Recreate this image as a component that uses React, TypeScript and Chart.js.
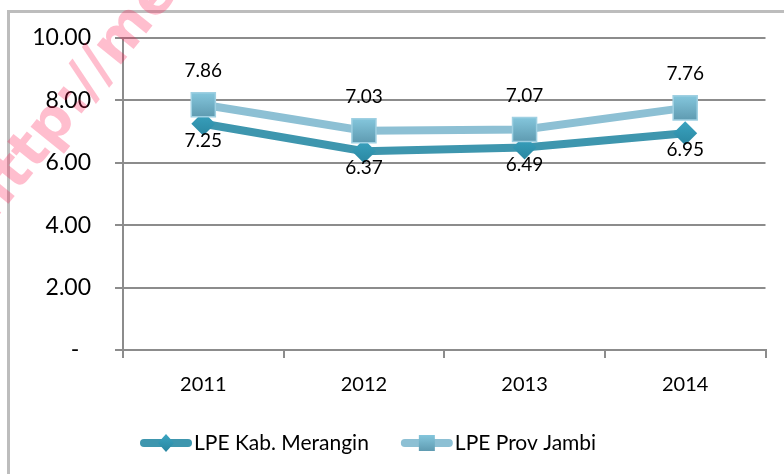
import React, { useEffect, useRef } from "react";
import { Chart, registerables } from "chart.js";

Chart.register(...registerables);

const years = ["2011", "2012", "2013", "2014"];
const meranginValues = [7.25, 6.37, 6.49, 6.95];
const jambiValues = [7.86, 7.03, 7.07, 7.76];
const seriesNames = ["LPE Kab. Merangin", "LPE Prov Jambi"];
const yTicks = [0, 2, 4, 6, 8, 10];
const watermarkText = "http://merangin";

const FONT = "Lato, 'Open Sans', sans-serif";
const GRID = "#8c8c8c";
const MER_LINE = "#3e96ae";
const JAM_LINE = "#8dc0d4";

function gradientFor(c: any, top: string, bottom: string, half: number, fallback: string) {
  if (c.type !== "data") return fallback;
  const chart = c.chart;
  const ys = chart.scales && chart.scales.y;
  if (!ys || typeof c.raw !== "number") return fallback;
  const y = ys.getPixelForValue(c.raw);
  if (!isFinite(y)) return fallback;
  const g = chart.ctx.createLinearGradient(0, y - half, 0, y + half);
  g.addColorStop(0, top);
  g.addColorStop(1, bottom);
  return g;
}

const labelPlugin = {
  id: "valueLabels",
  afterDatasetsDraw(chart: any) {
    const ctx = chart.ctx;
    ctx.save();
    ctx.font = `19px ${FONT}`;
    ctx.fillStyle = "#000";
    ctx.textAlign = "center";
    ctx.textBaseline = "middle";
    chart.data.datasets.forEach((ds: any, di: number) => {
      const meta = chart.getDatasetMeta(di);
      const off = ds.labelOffset || 0;
      meta.data.forEach((pt: any, i: number) => {
        ctx.fillText(ds.data[i].toFixed(2), pt.x, pt.y + off);
      });
    });
    ctx.restore();
  },
};

const decorPlugin = {
  id: "decor",
  beforeDraw(chart: any) {
    const ctx = chart.ctx;
    ctx.save();
    ctx.strokeStyle = "#bdbdbd";
    ctx.lineWidth = 3;
    ctx.strokeRect(8.5, 11.5, chart.width + 20, chart.height + 20);
    ctx.restore();
  },
  afterDraw(chart: any) {
    const ctx = chart.ctx;
    // legend
    ctx.save();
    const ly = 443;
    let x = 140;
    const items = [
      { ds: chart.data.datasets.find((d: any) => d.label === seriesNames[0]) },
      { ds: chart.data.datasets.find((d: any) => d.label === seriesNames[1]) },
    ];
    ctx.font = `21px ${FONT}`;
    ctx.textBaseline = "middle";
    items.forEach((it: any, idx: number) => {
      const ds = it.ds;
      ctx.strokeStyle = ds.borderColor;
      ctx.lineWidth = 8;
      ctx.lineCap = "round";
      ctx.beginPath();
      ctx.moveTo(x + 4, ly);
      ctx.lineTo(x + 48, ly);
      ctx.stroke();
      const cx = x + 26;
      if (idx === 0) {
        const g = ctx.createLinearGradient(0, ly - 8, 0, ly + 8);
        g.addColorStop(0, "#3aa3c0");
        g.addColorStop(1, "#2a87a1");
        ctx.fillStyle = g;
        ctx.beginPath();
        ctx.moveTo(cx, ly - 9);
        ctx.lineTo(cx + 8, ly);
        ctx.lineTo(cx, ly + 9);
        ctx.lineTo(cx - 8, ly);
        ctx.closePath();
        ctx.fill();
      } else {
        const g = ctx.createLinearGradient(0, ly - 8, 0, ly + 8);
        g.addColorStop(0, "#84c6dc");
        g.addColorStop(1, "#5f9bb1");
        ctx.fillStyle = g;
        ctx.fillRect(cx - 8, ly - 8, 16, 16);
      }
      ctx.fillStyle = "#000";
      ctx.textAlign = "left";
      ctx.fillText(ds.label, x + 54, ly);
      x += 54 + ctx.measureText(ds.label).width + 32;
    });
    ctx.restore();

    // watermark
    ctx.save();
    ctx.translate(-8, 224);
    ctx.rotate((-51 * Math.PI) / 180);
    ctx.font = `bold 57px 'DejaVu Sans', sans-serif`;
    ctx.fillStyle = "rgba(255, 20, 80, 0.28)";
    ctx.textBaseline = "alphabetic";
    ctx.fillText(watermarkText, 0, 0);
    ctx.restore();
  },
};

export default function App() {
  const ref = useRef<HTMLCanvasElement>(null);
  useEffect(() => {
    document.body.style.margin = "0";
    const canvas = ref.current!;
    const chart = new Chart(canvas, {
      type: "line",
      data: {
        labels: years,
        datasets: [
          {
            label: seriesNames[0],
            data: meranginValues,
            borderColor: MER_LINE,
            borderWidth: 8,
            pointStyle: "rectRot",
            pointRadius: 12,
            pointHoverRadius: 12,
            pointBorderWidth: 0,
            pointBorderColor: "rgba(0,0,0,0)",
            pointBackgroundColor: (c: any) => gradientFor(c, "#3aa3c0", "#2a87a1", 12, "#3399b4"),
            tension: 0,
            order: 2,
            labelOffset: 17,
          } as any,
          {
            label: seriesNames[1],
            data: jambiValues,
            borderColor: JAM_LINE,
            borderWidth: 8,
            pointStyle: "rect",
            pointRadius: 17,
            pointHoverRadius: 17,
            pointBorderWidth: 1.5,
            pointBorderColor: "#9fd0e2",
            pointBackgroundColor: (c: any) => gradientFor(c, "#84c6dc", "#5f9bb1", 12, "#72b0c6"),
            tension: 0,
            order: 1,
            labelOffset: -34,
          } as any,
        ],
      },
      options: {
        animation: false,
        responsive: false,
        maintainAspectRatio: false,
        layout: { padding: { left: 8, top: 38, right: 17, bottom: 74 } },
        plugins: { legend: { display: false }, tooltip: { enabled: false } },
        scales: {
          y: {
            min: 0,
            max: 10,
            afterBuildTicks: (s: any) => {
              s.ticks = yTicks.map((v) => ({ value: v }));
            },
            afterFit: (s: any) => {
              s.width = 115;
            },
            ticks: {
              font: { family: FONT, size: 23 },
              color: "#000",
              padding: 24,
              callback: (v: any) => (Number(v) === 0 ? "-  " : Number(v).toFixed(2)),
            },
            grid: { color: GRID, lineWidth: 2, tickLength: 8 },
            border: { color: GRID, width: 2 },
          },
          x: {
            offset: true,
            afterFit: (s: any) => {
              s.height = 50;
            },
            ticks: {
              font: { family: FONT, size: 20 },
              color: "#000",
              padding: 15,
            },
            grid: { offset: true, drawOnChartArea: false, color: GRID, lineWidth: 2, tickLength: 8 },
            border: { color: GRID, width: 2 },
          },
        },
      },
      plugins: [labelPlugin, decorPlugin],
    });
    return () => chart.destroy();
  }, []);
  return <canvas ref={ref} width={784} height={474} style={{ display: "block" }} />;
}
